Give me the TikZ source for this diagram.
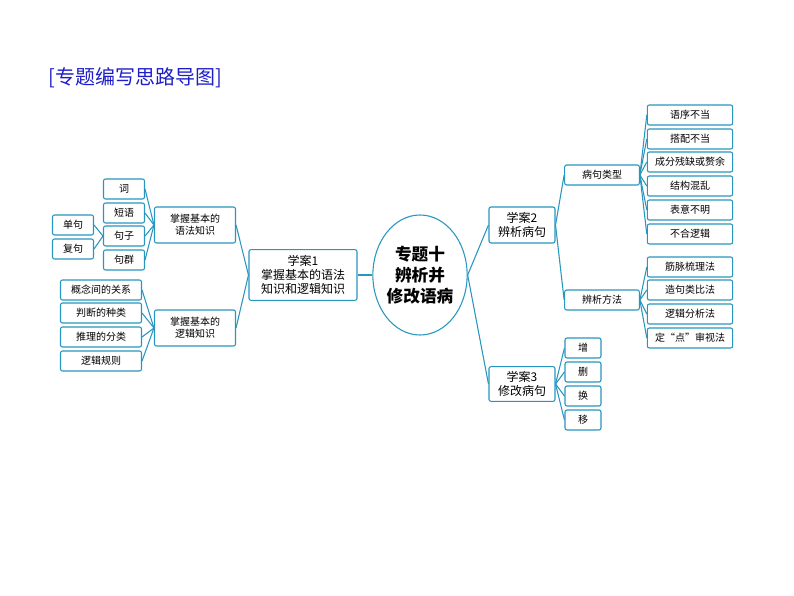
\documentclass[tikz,border=0pt]{standalone}
\usepackage{fontspec}
\setmainfont{Noto Sans CJK SC}
\usetikzlibrary{shapes.geometric}
\definecolor{linecol}{RGB}{40,150,190}
\definecolor{titlecol}{RGB}{30,30,200}
\tikzset{
  box/.style={draw=linecol, line width=0.8pt, rounded corners=1.5pt, inner sep=0pt, font=\fontsize{7.5}{9}\selectfont, align=center},
  leaf/.style={box, minimum width=30.75pt, minimum height=15pt},
  wide/.style={box, minimum width=60.75pt, minimum height=15pt},
  mid/.style={box, minimum width=60.75pt, minimum height=27pt},
  link/.style={draw=linecol, line width=0.8pt},
}
\begin{document}
\begin{tikzpicture}[x=0.75pt, y=-0.75pt]
    \useasboundingbox (0,0) rectangle (794,596);

    % Title
    \node[anchor=west, text=titlecol, font=\fontsize{15}{18}\selectfont] (title) at (44,78) {[专题编写思路导图]};

    % Centre
    \node[draw=linecol, line width=0.8pt, ellipse, minimum width=70.5pt, minimum height=90pt, inner sep=0pt, align=center, font=\bfseries\fontsize{12.5}{16}\selectfont] (core) at (420,275) {专题十\\辨析并\\修改语病};
    \node[box, minimum width=81pt, minimum height=38pt, font=\fontsize{9}{10.5}\selectfont] (case1) at (303,275) {学案1\\掌握基本的语法\\知识和逻辑知识};
    \node[box, minimum width=49.5pt, minimum height=27pt, font=\fontsize{9}{10.5}\selectfont] (case2) at (522,225) {学案2\\辨析病句};
    \node[box, minimum width=49.5pt, minimum height=26pt, font=\fontsize{9}{10.5}\selectfont] (case3) at (522,384) {学案3\\修改病句};

    % Left side
    \node[mid] (gram) at (195,225) {掌握基本的\\语法知识};
    \node[mid] (logic) at (195,328) {掌握基本的\\逻辑知识};
    \node[leaf] (ci) at (124,189) {词};
    \node[leaf] (duanyu) at (124,213) {短语};
    \node[leaf] (juzi) at (124,236) {句子};
    \node[leaf] (juqun) at (124,260) {句群};
    \node[leaf] (danju) at (73,225) {单句};
    \node[leaf] (fuju) at (73,249) {复句};
    \node[wide] (gainian) at (101,290) {概念间的关系};
    \node[wide] (panduan) at (101,313) {判断的种类};
    \node[wide] (tuili) at (101,337) {推理的分类};
    \node[wide] (guize) at (101,361) {逻辑规则};

    % Right side
    \node[box, minimum width=56pt, minimum height=15pt] (leixing) at (602,175) {病句类型};
    \node[box, minimum width=56pt, minimum height=15pt] (fangfa) at (602,300) {辨析方法};
    \foreach \name/\txt/\y in {t1/语序不当/115, t2/搭配不当/139, t3/成分残缺或赘余/162, t4/结构混乱/186, t5/表意不明/210, t6/不合逻辑/234,
                               m1/筋脉梳理法/267, m2/造句类比法/290, m3/逻辑分析法/314, m4/定“点”审视法/338}
      \node[box, minimum width=64pt, minimum height=15pt] (\name) at (690,\y) {\txt};
    \foreach \name/\txt/\y in {zeng/增/348, shan/删/372, huan/换/396, yi/移/420}
      \node[box, minimum width=27pt, minimum height=15pt] (\name) at (583,\y) {\txt};

    % Connectors
    \draw[link] (core) -- (case1.east);
    \draw[link] (core.east) -- (case2.west);
    \draw[link] (core.east) -- (case3.west);
    \foreach \c in {gram, logic} \draw[link] (case1.west) -- (\c.east);
    \foreach \c in {ci, duanyu, juzi, juqun} \draw[link] (gram.west) -- (\c.east);
    \foreach \c in {danju, fuju} \draw[link] (juzi.west) -- (\c.east);
    \foreach \c in {gainian, panduan, tuili, guize} \draw[link] (logic.west) -- (\c.east);
    \foreach \c in {leixing, fangfa} \draw[link] (case2.east) -- (\c.west);
    \foreach \c in {t1, t2, t3, t4, t5, t6} \draw[link] (leixing.east) -- (\c.west);
    \foreach \c in {m1, m2, m3, m4} \draw[link] (fangfa.east) -- (\c.west);
    \foreach \c in {zeng, shan, huan, yi} \draw[link] (case3.east) -- (\c.west);

\end{tikzpicture}
\end{document}
